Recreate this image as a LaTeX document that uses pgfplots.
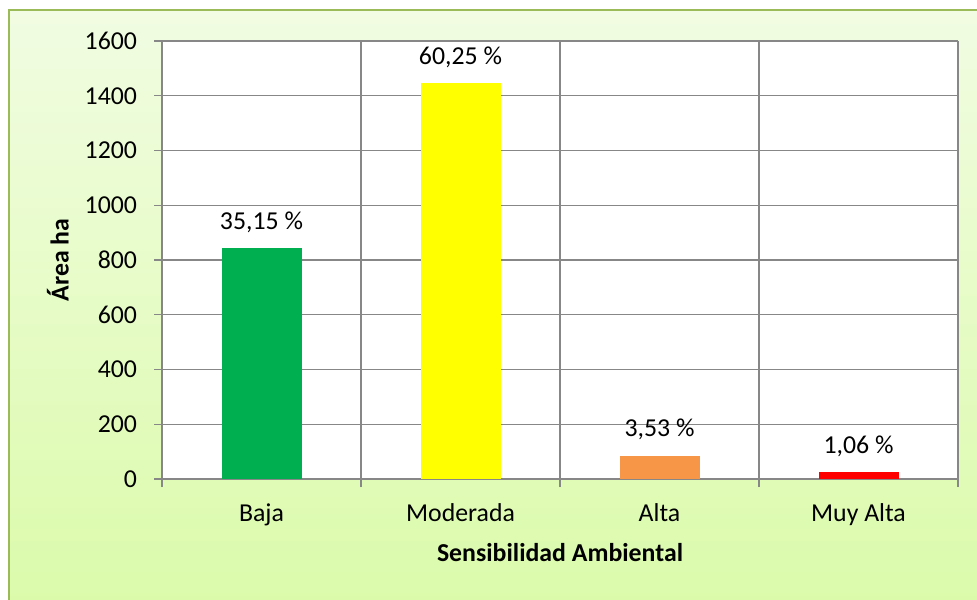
\documentclass[border=0pt]{standalone}
\usepackage{fontspec}
\setmainfont{Carlito}
\usepackage{pgfplots}
\pgfplotsset{compat=1.18}
\definecolor{frameg}{HTML}{9BBB59}
\definecolor{bgtop}{HTML}{F1FCE2}
\definecolor{bgbot}{HTML}{DBFBAA}
\definecolor{gridc}{HTML}{878787}
\definecolor{cbaja}{HTML}{00B050}
\definecolor{cmod}{HTML}{FFFF00}
\definecolor{calta}{HTML}{F79646}
\definecolor{cmuy}{HTML}{FF0000}
\begin{document}
\begin{tikzpicture}
\fontsize{12.9}{15}\selectfont
\useasboundingbox (0,0) rectangle (488.5pt,299.5pt);
\fill[white] (0,0) rectangle (488.5pt,299.5pt);
\shade[top color=bgtop, bottom color=bgbot] (4.5pt,-5pt) rectangle (500pt,294.5pt);
\draw[frameg, line width=0.7pt] (4.5pt,-5pt) rectangle (500pt,294.5pt);
\begin{axis}[
  at={(81pt,60pt)}, anchor=south west,
  width=398pt, height=219pt, scale only axis,
  axis background/.style={fill=white},
  xmin=-0.5, xmax=3.5, ymin=0, ymax=1600,
  xtick={0,1,2,3},
  xticklabels={Baja,Moderada,Alta,Muy Alta},
  major x tick style={draw=none},
  minor xtick={-0.5,0.5,1.5,2.5,3.5},
  minor x grid style={gridc, line width=0.6pt},
  xminorgrids=true,
  ytick={0,200,...,1600},
  ymajorgrids=true,
  major y grid style={gridc, line width=0.6pt},
  tick align=outside,
  major tick length=4pt, minor tick length=4pt,
  tick style={gridc, line width=0.6pt},
  axis line style={gridc, line width=0.6pt},
  axis x line*=bottom, axis y line*=left,
  /pgf/number format/1000 sep={},
  /pgf/number format/assume math mode=true,
  tick label style={font=\fontsize{12.9}{15}\selectfont, text=black},
  xticklabel style={yshift=-4pt},
  yticklabel style={xshift=-4pt},
  xlabel={\textbf{Sensibilidad Ambiental}},
  ylabel={\textbf{Área ha}},
  label style={font=\fontsize{12.9}{15}\selectfont},
  every axis x label/.style={at={(rel axis cs:0.5,0)}, anchor=center, yshift=-37pt},
  every axis y label/.style={at={(rel axis cs:0,0.5)}, xshift=-52pt, anchor=center, rotate=90},
  ybar, bar width=40pt,
  clip=false,
  nodes near coords style={anchor=center, yshift=13pt, font=\fontsize{12.9}{15}\selectfont, text=black},
]
\addplot[fill=cbaja, draw=none, bar shift=0pt, nodes near coords={35,15 \%}] coordinates {(0,843.6)};
\addplot[fill=cmod, draw=none, bar shift=0pt, nodes near coords={60,25 \%}] coordinates {(1,1446)};
\addplot[fill=calta, draw=none, bar shift=0pt, nodes near coords={3,53 \%}] coordinates {(2,84.7)};
\addplot[fill=cmuy, draw=none, bar shift=0pt, nodes near coords={1,06 \%}] coordinates {(3,25.4)};
\end{axis}
\end{tikzpicture}
\end{document}
